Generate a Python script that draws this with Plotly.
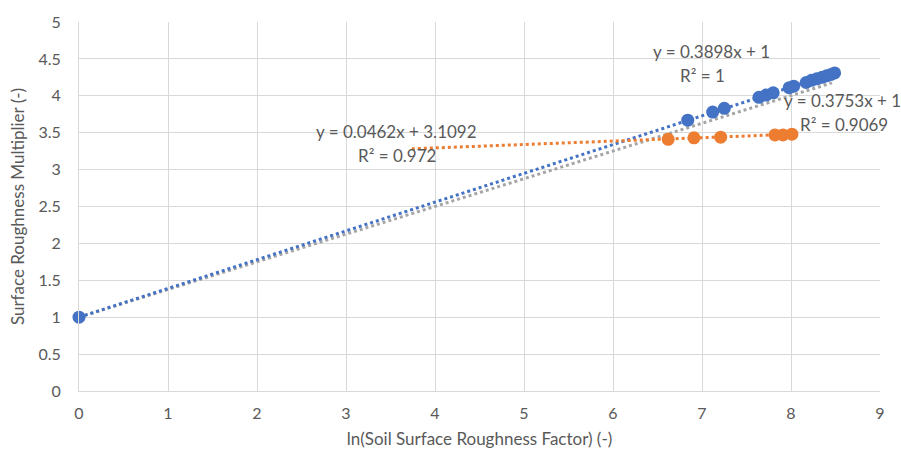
import plotly.graph_objects as go

# Series
blue_x = [0.0, 6.84, 7.12, 7.25, 7.64, 7.72, 7.80, 7.98, 8.03, 8.17, 8.23, 8.29, 8.35, 8.40, 8.45, 8.49]
blue_y = [1.0, 3.67, 3.78, 3.83, 3.98, 4.01, 4.04, 4.11, 4.13, 4.18, 4.21, 4.23, 4.25, 4.27, 4.29, 4.31]
orange_x = [6.62, 6.91, 7.21, 7.82, 7.91, 8.01]
orange_y = [3.41, 3.43, 3.44, 3.47, 3.47, 3.48]

# Trendline coefficients (from the chart labels)
blue_fit = (0.3898, 1.0)
gray_fit = (0.3753, 1.0)
orange_fit = (0.0462, 3.1092)
blue_fit_range = [0.0, 8.49]
gray_fit_range = [0.0, 8.46]
orange_fit_range = [3.74, 8.01]

x_ticks = [0, 1, 2, 3, 4, 5, 6, 7, 8, 9]
y_ticks = [0, 0.5, 1, 1.5, 2, 2.5, 3, 3.5, 4, 4.5, 5]

BLUE = "#4472C4"
ORANGE = "#ED7D31"
GRAY = "#A5A5A5"
TXT = "#595959"
FONT = "Lato"

def line_pts(fit, rng):
    m, b = fit
    return rng, [m * v + b for v in rng]

fig = go.Figure()

gx, gy = line_pts(gray_fit, gray_fit_range)
fig.add_trace(go.Scatter(x=gx, y=gy, mode="lines",
                         line=dict(color=GRAY, width=3, dash="dot"), hoverinfo="skip"))
bx, by = line_pts(blue_fit, blue_fit_range)
fig.add_trace(go.Scatter(x=bx, y=by, mode="lines",
                         line=dict(color=BLUE, width=3, dash="dot"), hoverinfo="skip"))
ox, oy = line_pts(orange_fit, orange_fit_range)
fig.add_trace(go.Scatter(x=ox, y=oy, mode="lines",
                         line=dict(color=ORANGE, width=3, dash="dot"), hoverinfo="skip"))

fig.add_trace(go.Scatter(x=blue_x, y=blue_y, mode="markers", cliponaxis=False,
                         marker=dict(color=BLUE, size=13, line=dict(width=0))))
fig.add_trace(go.Scatter(x=orange_x, y=orange_y, mode="markers", cliponaxis=False,
                         marker=dict(color=ORANGE, size=13, line=dict(width=0))))

labels = [
    ("y = 0.3898x + 1", 7.11, 4.60),
    ("R² = 1", 7.0, 4.28),
    ("y = 0.3753x + 1", 8.58, 3.93),
    ("R² = 0.9069", 8.6, 3.61),
    ("y = 0.0462x + 3.1092", 3.57, 3.51),
    ("R² = 0.972", 3.57, 3.19),
]
for t, x, y in labels:
    fig.add_annotation(x=x, y=y, xref="x", yref="y", text=t, showarrow=False,
                       font=dict(family=FONT, size=17, color=TXT),
                       xanchor="center", yanchor="middle")

fig.update_layout(
    width=901, height=459,
    margin=dict(l=79, r=21, t=18, b=68),
    paper_bgcolor="white", plot_bgcolor="white",
    showlegend=False,
    font=dict(family=FONT, size=16, color=TXT),
)
fig.update_xaxes(
    range=[0, 9], tickvals=x_ticks, ticktext=[str(v) for v in x_ticks],
    showgrid=True, gridcolor="#D9D9D9", gridwidth=1,
    zeroline=False, showline=True, linecolor="#D9D9D9", linewidth=1,
    mirror=False, ticks="", ticklabelstandoff=8,
    tickfont=dict(family=FONT, size=16, color=TXT),
    title=dict(text="ln(Soil Surface Roughness Factor) (-)", standoff=11,
               font=dict(family=FONT, size=17, color=TXT)),
)
fig.update_yaxes(
    range=[0, 5], tickvals=y_ticks, ticktext=[f"{v:g}" for v in y_ticks],
    showgrid=True, gridcolor="#D9D9D9", gridwidth=1,
    zeroline=False, showline=True, linecolor="#D9D9D9", linewidth=1,
    ticks="", ticklabelstandoff=14,
    tickfont=dict(family=FONT, size=16, color=TXT),
    title=dict(text="Surface Roughness Multiplier (-)", standoff=9,
               font=dict(family=FONT, size=17, color=TXT)),
)

fig.write_html("out.html")
